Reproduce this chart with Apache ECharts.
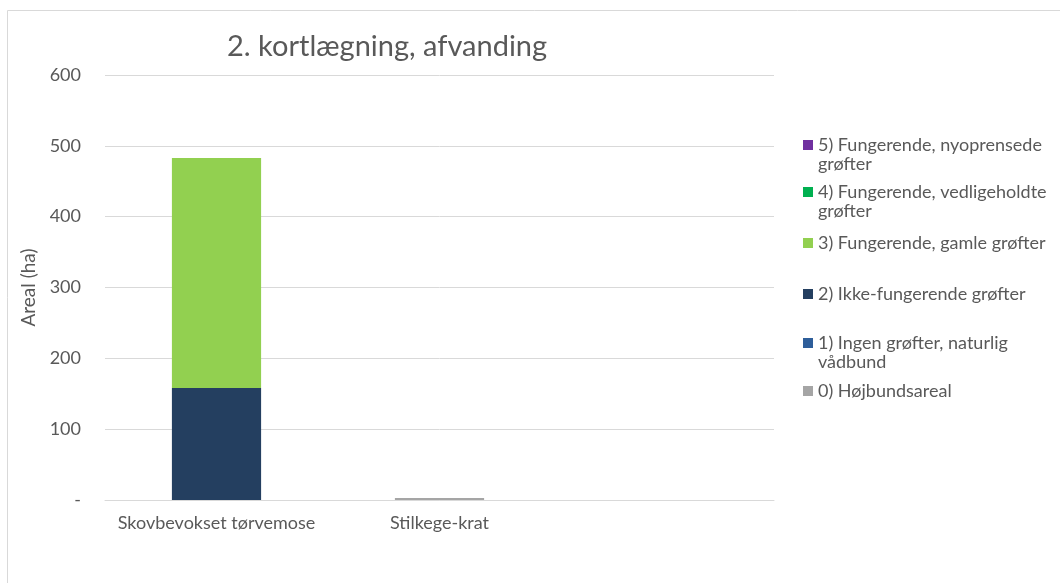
<!DOCTYPE html>
<html><head><meta charset="utf-8">
<script src="https://cdn.jsdelivr.net/npm/echarts@6/dist/echarts.min.js"></script>
<style>html,body{margin:0;padding:0;background:#fff}#c{width:1060px;height:583px}</style>
</head><body><div id="c"></div>
<script>
const categories = ['Skovbevokset tørvemose', 'Stilkege-krat', ''];
const seriesNames = ['0) Højbundsareal', '1) Ingen grøfter, naturlig vådbund', '2) Ikke-fungerende grøfter', '3) Fungerende, gamle grøfter', '4) Fungerende, vedligeholdte grøfter', '5) Fungerende, nyoprensede grøfter'];
const s0 = [0, 3, 0];
const s1 = [0, 0, 0];
const s2 = [158, 0, 0];
const s3 = [325, 0, 0];
const s4 = [0, 0, 0];
const s5 = [0, 0, 0];
const yTicks = [0, 100, 200, 300, 400, 500, 600];

const colors = ['#A5A5A5', '#2E5E9A', '#243F60', '#92D050', '#00B050', '#7030A0'];
const values = [s0, s1, s2, s3, s4, s5];
const FONT = 'Lato';
const TXT = '#595959';
const FS = 18;

// legend layout: top (px), first line, second line
const legendLayout = [
  {i: 5, top: 142, l1: '5) Fungerende, nyoprensede', l2: 'grøfter'},
  {i: 4, top: 189, l1: '4) Fungerende, vedligeholdte', l2: 'grøfter'},
  {i: 3, top: 240, l1: '3) Fungerende, gamle grøfter'},
  {i: 2, top: 291, l1: '2) Ikke-fungerende grøfter'},
  {i: 1, top: 340, l1: '1) Ingen grøfter, naturlig', l2: 'vådbund'},
  {i: 0, top: 388, l1: '0) Højbundsareal'}
];

const legends = legendLayout.map(o => ({
  data: [seriesNames[o.i]],
  left: 798, top: o.top - 11, orient: 'vertical',
  itemWidth: 10, itemHeight: 10, itemGap: 5,
  icon: 'rect', selectedMode: false,
  formatter: () => o.l1,
  textStyle: {fontFamily: FONT, fontSize: FS, color: TXT}
}));

const graphics = [{
  type: 'rect', shape: {x: 7.5, y: 10.5, width: 1100, height: 600},
  style: {fill: 'none', stroke: '#d9d9d9', lineWidth: 1}, silent: true
}];
legendLayout.filter(o => o.l2).forEach(o => {
  graphics.push({type: 'text', left: 818, top: o.top + 24 - 11,
    style: {text: o.l2, fontFamily: FONT, fontSize: FS, fill: TXT}});
});

const chart = echarts.init(document.getElementById('c'));
chart.setOption({
  animation: false,
  color: colors,
  title: {text: '2. kortlægning, afvanding', left: 222, top: 27,
    textStyle: {fontFamily: FONT, fontSize: 29, fontWeight: 'normal', color: TXT}},
  legend: legends,
  graphic: graphics,
  grid: {left: 105, right: 286, top: 75, bottom: 83, containLabel: false},
  xAxis: {type: 'category', data: categories,
    axisLine: {lineStyle: {color: '#d9d9d9'}}, axisTick: {show: false},
    axisLabel: {interval: 0, fontFamily: FONT, fontSize: FS, color: TXT, margin: 14}},
  yAxis: {type: 'value', min: yTicks[0], max: yTicks[yTicks.length - 1], interval: 100,
    name: 'Areal (ha)', nameLocation: 'middle', nameGap: 65, nameRotate: 90,
    nameTextStyle: {fontFamily: FONT, fontSize: 19, color: TXT},
    axisLine: {show: false}, axisTick: {show: false},
    splitLine: {lineStyle: {color: '#d9d9d9'}},
    axisLabel: {fontFamily: FONT, fontSize: FS, color: TXT, margin: 24,
      formatter: v => v === 0 ? '-' : String(v)}},
  series: values.map((d, k) => ({
    name: seriesNames[k], type: 'bar', stack: 'a', data: d,
    barWidth: '40%', itemStyle: {color: colors[k]}
  }))
});
</script></body></html>
